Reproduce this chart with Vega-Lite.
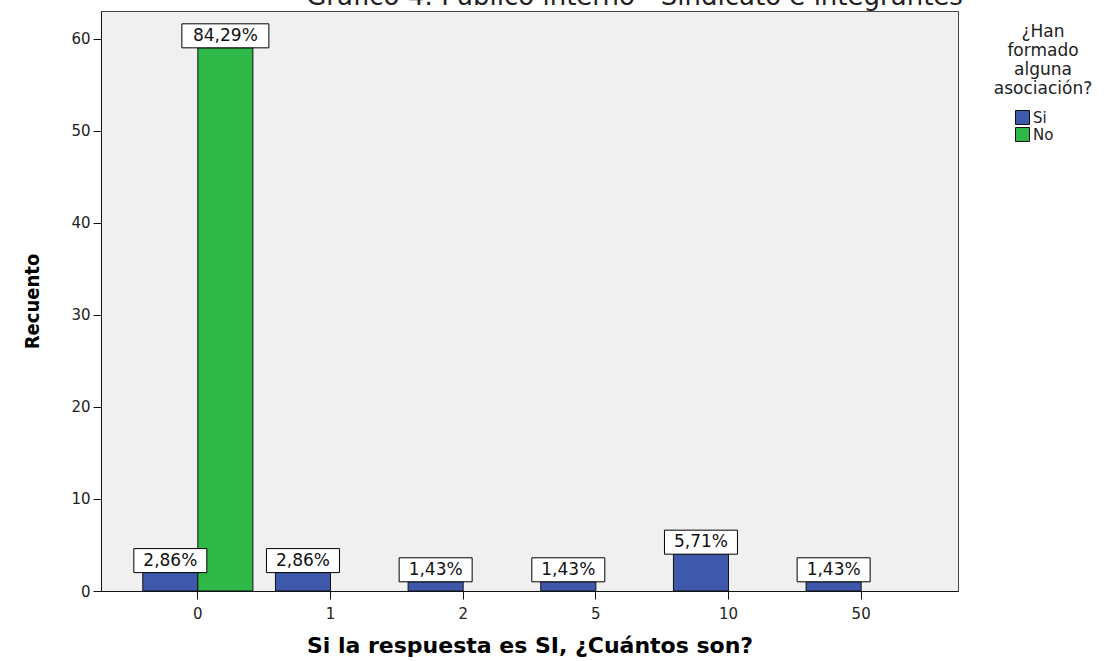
{
  "$schema": "https://vega.github.io/schema/vega-lite/v6.json",
  "width": 857,
  "height": 580,
  "autosize": {"type": "none"},
  "padding": {"left": 101, "top": 11, "right": 159, "bottom": 70},
  "background": "white",
  "title": {
    "text": "Gráfico 4: Público interno - Sindicato e integrantes",
    "font": "DejaVu Sans",
    "fontSize": 26,
    "fontWeight": "normal",
    "color": "#222",
    "anchor": "middle",
    "frame": "group",
    "dx": 105,
    "offset": -20,
    "baseline": "alphabetic"
  },
  "config": {
    "view": {"fill": "#F0F0F0", "stroke": "#444", "strokeWidth": 1},
    "font": "DejaVu Sans"
  },
  "data": {
    "values": [
      {"cat": "0", "grupo": "Si", "n": 2, "pct": "2,86%"},
      {"cat": "0", "grupo": "No", "n": 59, "pct": "84,29%"},
      {"cat": "1", "grupo": "Si", "n": 2, "pct": "2,86%"},
      {"cat": "2", "grupo": "Si", "n": 1, "pct": "1,43%"},
      {"cat": "5", "grupo": "Si", "n": 1, "pct": "1,43%"},
      {"cat": "10", "grupo": "Si", "n": 4, "pct": "5,71%"},
      {"cat": "50", "grupo": "Si", "n": 1, "pct": "1,43%"}
    ]
  },
  "encoding": {
    "x": {
      "field": "cat",
      "type": "nominal",
      "sort": ["0", "1", "2", "5", "10", "50"],
      "scale": {"paddingInner": 0.17, "paddingOuter": 0.315},
      "title": "Si la respuesta es SI, ¿Cuántos son?",
      "axis": {
        "labelAngle": 0,
        "tickSize": 8,
        "tickColor": "#111",
        "domainColor": "#111",
        "labelFont": "DejaVu Sans",
        "labelFontSize": 15,
        "labelColor": "#222",
        "labelPadding": 7,
        "titleFont": "DejaVu Sans",
        "titleFontSize": 22,
        "titleFontWeight": "bold",
        "titleColor": "#000",
        "titlePadding": 14
      }
    },
    "xOffset": {
      "field": "grupo",
      "type": "nominal",
      "sort": ["Si", "No"],
      "scale": {"domain": ["Si", "No"], "paddingInner": 0, "paddingOuter": 0}
    },
    "y": {
      "field": "n",
      "type": "quantitative",
      "scale": {"domain": [0, 63], "nice": false},
      "title": "Recuento",
      "axis": {
        "values": [0, 10, 20, 30, 40, 50, 60],
        "grid": false,
        "tickSize": 8,
        "tickColor": "#111",
        "domainColor": "#111",
        "labelFont": "DejaVu Sans",
        "labelFontSize": 15,
        "labelColor": "#222",
        "labelPadding": 3,
        "titleFont": "Liberation Sans Narrow, DejaVu Sans Condensed, sans-serif",
        "titleFontSize": 20,
        "titleFontWeight": "bold",
        "titleColor": "#000",
        "titlePadding": 28
      }
    }
  },
  "layer": [
    {
      "mark": {"type": "bar", "stroke": "#111", "strokeWidth": 1},
      "encoding": {
        "color": {
          "field": "grupo",
          "type": "nominal",
          "scale": {"domain": ["Si", "No"], "range": ["#3E58AC", "#2EB848"]},
          "legend": {
            "orient": "none",
            "legendX": 893,
            "legendY": 13,
            "title": ["¿Han", "formado", "alguna", "asociación?"],
            "titleFont": "DejaVu Sans",
            "titleFontSize": 17,
            "titleFontWeight": "normal",
            "titleColor": "#222",
            "titleAlign": "center",
            "titleAnchor": "middle",
            "titleLineHeight": 19,
            "titlePadding": 12,
            "symbolType": "square",
            "symbolSize": 196,
            "symbolStrokeColor": "#111",
            "symbolStrokeWidth": 1,
            "symbolOffset": -18,
            "labelFont": "DejaVu Sans",
            "labelFontSize": 15,
            "labelColor": "#222",
            "labelOffset": 3,
            "rowPadding": -2,
            "padding": 0
          }
        }
      }
    },
    {
      "transform": [{"filter": "datum.grupo == 'Si'"}],
      "mark": {
        "type": "point",
        "shape": "M-1,-0.329L1,-0.329L1,0.329L-1,0.329Z",
        "size": 5329,
        "filled": true,
        "fill": "white",
        "stroke": "black",
        "strokeWidth": 1,
        "opacity": 1,
        "yOffset": -12
      }
    },
    {
      "transform": [{"filter": "datum.grupo == 'No'"}],
      "mark": {
        "type": "point",
        "shape": "M-1,-0.276L1,-0.276L1,0.276L-1,0.276Z",
        "size": 7569,
        "filled": true,
        "fill": "white",
        "stroke": "black",
        "strokeWidth": 1,
        "opacity": 1,
        "yOffset": -12
      }
    },
    {
      "mark": {
        "type": "text",
        "dy": -12,
        "baseline": "middle",
        "font": "DejaVu Sans",
        "fontSize": 17,
        "color": "#111"
      },
      "encoding": {"text": {"field": "pct"}}
    }
  ]
}
